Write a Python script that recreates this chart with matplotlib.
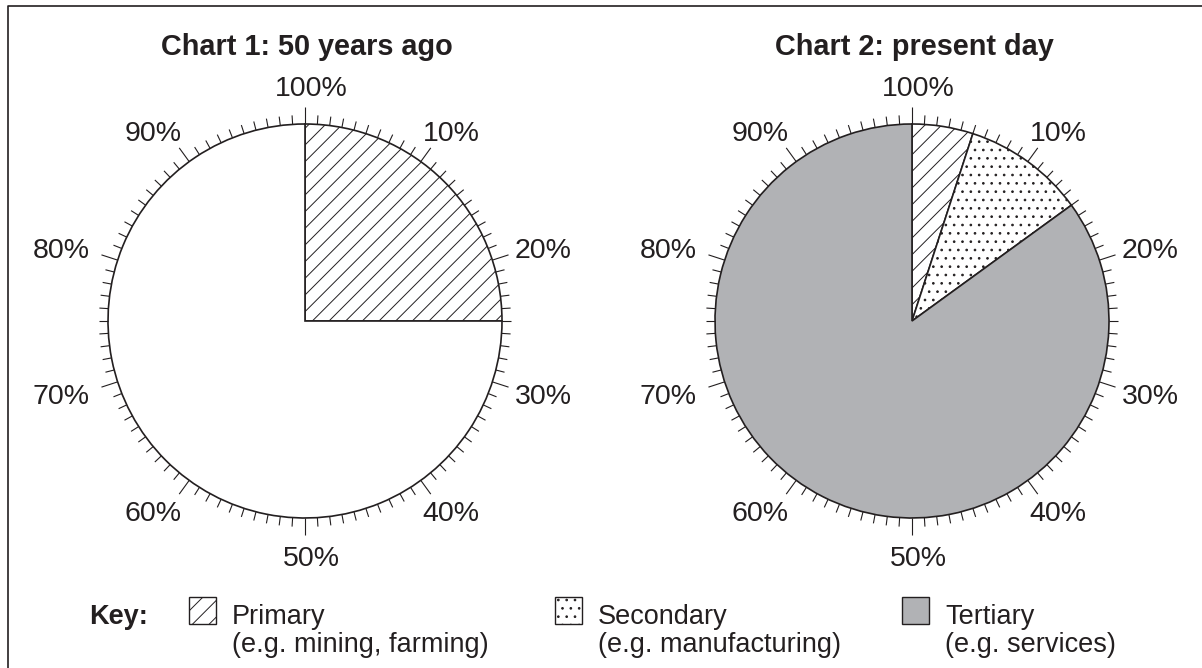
import matplotlib.pyplot as plt
import numpy as np

plt.rcParams['font.family'] = ['Liberation Sans', 'DejaVu Sans']
plt.rcParams['hatch.color'] = 'black'
plt.rcParams['hatch.linewidth'] = 0.7

# data
sector_names = ['Primary', 'Secondary', 'Tertiary']
sector_examples = ['(e.g. mining, farming)', '(e.g. manufacturing)', '(e.g. services)']
chart1_values = [25, 75]          # primary, unfilled rest
chart2_values = [5, 10, 85]       # primary, secondary, tertiary
titles = ['Chart 1: 50 years ago', 'Chart 2: present day']
tick_labels = ['100%', '10%', '20%', '30%', '40%', '50%', '60%', '70%', '80%', '90%']

W, H = 1202, 668
fig = plt.figure(figsize=(W / 100, H / 100), dpi=100)
ax = fig.add_axes([0, 0, 1, 1])

ink = '#231f20'
grey = '#b1b2b5'
R = 197
centers = [(305, H - 321), (912, H - 321)]

ax.pie(chart1_values, center=centers[0], radius=R, startangle=90, counterclock=False,
       colors=['white', 'white'], hatch=['//', ''],
       wedgeprops=dict(edgecolor=ink, linewidth=1.2))
ax.pie(chart2_values, center=centers[1], radius=R, startangle=90, counterclock=False,
       colors=['white', 'white', grey], hatch=['//', '..', ''],
       wedgeprops=dict(edgecolor=ink, linewidth=1.2))

# percentage scale round each pie
fs = 20.5
for cx, cy in centers:
    for i in range(100):
        a = np.radians(90 - 3.6 * i)
        L = 17 if i % 10 == 0 else 9
        ax.plot([cx + R * np.cos(a), cx + (R + L) * np.cos(a)],
                [cy + R * np.sin(a), cy + (R + L) * np.sin(a)],
                color=ink, lw=0.8, solid_capstyle='butt')
    for k, lab in enumerate(tick_labels):
        a = np.radians(90 - 36 * k)
        dx, dy = np.cos(a), np.sin(a)
        em = fs * 100 / 72
        w = em * (0.556 * (len(lab) - 1) + 0.889)
        h = 20
        shift = 6 if abs(dx) < 0.1 else -3
        x = cx + (R + 17 + 11) * dx + dx * w / 2 + shift
        y = cy + (R + 17 + 11) * dy + dy * h / 2
        ax.text(x, y, lab, ha='center', va='center_baseline', fontsize=fs, color=ink)

for (cx, cy), t in zip(centers, titles):
    ax.text(cx + 2, H - 44, t, ha='center', va='center_baseline', fontsize=20.8,
            fontweight='bold', color=ink)

# key
ky = H - 614
ax.text(148, ky, 'Key:', ha='right', va='center_baseline', fontsize=19.5,
        fontweight='bold', color=ink)
key_x = [189, 555, 902]
key_fill = ['white', 'white', grey]
key_hatch = ['//', '..', '']
for x0, name, ex, fc, ht in zip(key_x, sector_names, sector_examples, key_fill, key_hatch):
    ax.add_patch(plt.Rectangle((x0, H - 624), 27, 27, facecolor=fc, hatch=ht,
                               edgecolor=ink, lw=1.0))
    ax.text(x0 + 43, ky, name, ha='left', va='center_baseline', fontsize=19.5, color=ink)
    ax.text(x0 + 43, ky - 28, ex, ha='left', va='center_baseline', fontsize=19.5, color=ink)

# frame
ax.plot([8, 8, W], [0, H - 6, H - 6], color=ink, lw=1.2)

ax.set_xlim(0, W)
ax.set_ylim(0, H)
ax.set_aspect('auto')
ax.axis('off')
fig.savefig('out.png', dpi=100)
